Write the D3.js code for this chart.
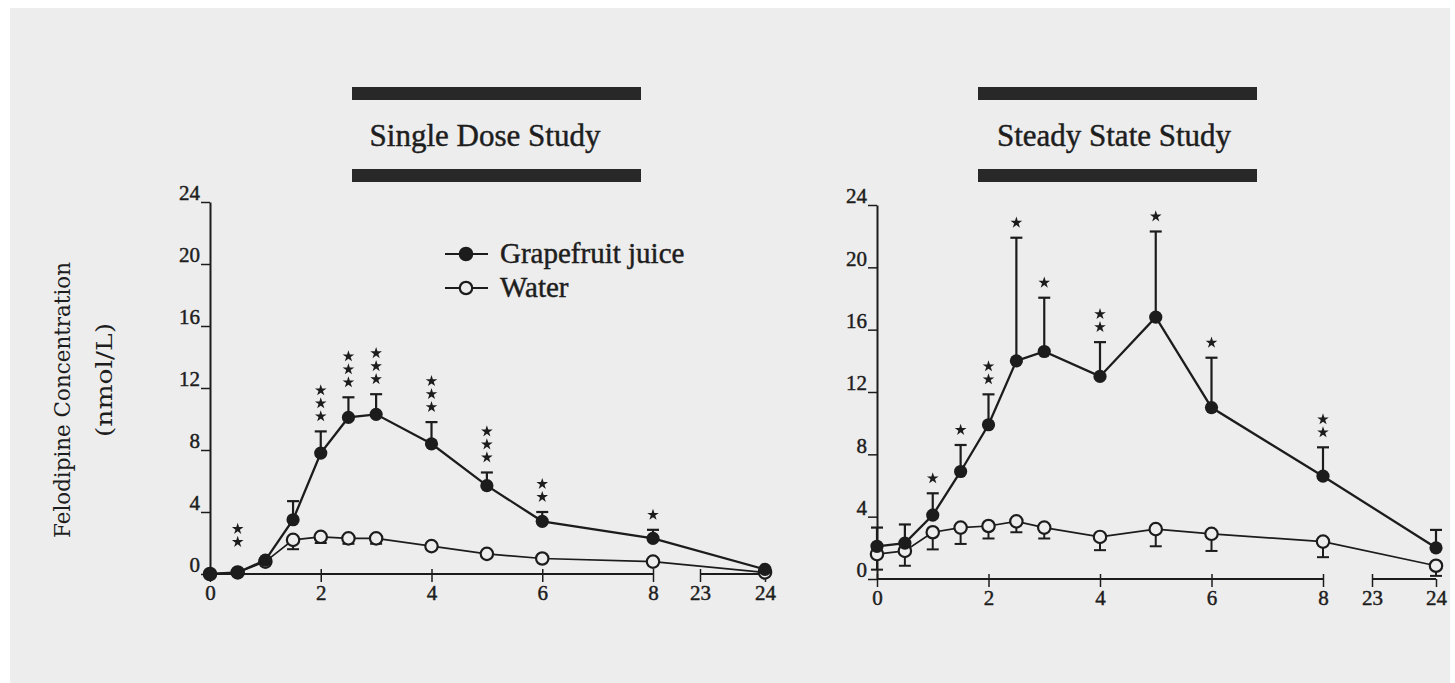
<!DOCTYPE html>
<html>
<head>
<meta charset="utf-8">
<script src="https://cdn.jsdelivr.net/npm/d3@7"></script>
<style>
  body { margin: 0; background: #fff; }
  svg { display: block; }
  text { fill: #1e1e1e; }
</style>
</head>
<body>
<svg id="chart" width="1455" height="683"></svg>
<script>
// Sampling times (h) and axis ticks
const hours = [0, 0.5, 1, 1.5, 2, 2.5, 3, 4, 5, 6, 8, 24];
const xTicks = [0, 2, 4, 6, 8, 23, 24];
const yTicks = [0, 4, 8, 12, 16, 20, 24];
const seriesNames = ["Grapefruit juice", "Water"];
const studyTitles = ["Single Dose Study", "Steady State Study"];
const yLabel = ["Felodipine Concentration", "(nmol/L)"];

// Single dose study: mean and SEM (nmol/L), significance stars per time point
const singleJuice   = [0, 0.1, 0.9, 3.5, 7.8, 10.1, 10.3, 8.4, 5.7, 3.4, 2.3, 0.3];
const singleJuiceSE = [0, 0, 0, 1.2, 1.4, 1.3, 1.3, 1.4, 0.85, 0.6, 0.55, 0];
const singleWater   = [0, 0.1, 0.8, 2.2, 2.4, 2.3, 2.3, 1.8, 1.3, 1.0, 0.8, 0.1];
const singleWaterSE = [0, 0, 0, 0.6, 0.4, 0.35, 0.35, 0.2, 0.1, 0.1, 0.2, 0.1];
const singleStars   = [0, 2, 0, 0, 3, 3, 3, 3, 3, 2, 1, 0];

// Steady state study
const steadyJuice   = [2.1, 2.3, 4.1, 6.9, 9.9, 14.0, 14.6, 13.0, 16.8, 11.0, 6.6, 2.0];
const steadyJuiceSE = [1.2, 1.2, 1.4, 1.7, 1.95, 7.9, 3.45, 2.2, 5.5, 3.2, 1.85, 1.15];
const steadyWater   = [1.6, 1.8, 3.0, 3.3, 3.4, 3.7, 3.3, 2.7, 3.2, 2.9, 2.4, 0.85];
const steadyWaterSE = [1.0, 0.95, 1.1, 1.05, 0.8, 0.7, 0.7, 0.85, 1.1, 1.1, 1.0, 0.65];
const steadyStars   = [0, 0, 1, 1, 2, 1, 1, 2, 1, 1, 2, 0];

const svg = d3.select("#chart");
const ink = "#1c1c1c";
const paper = "#ededed";
const serif = "'Liberation Serif', 'Times New Roman', serif";

svg.append("rect").attr("x", 10).attr("y", 8).attr("width", 1440).attr("height", 675).attr("fill", paper);

const panels = [
  { title: studyTitles[0], juice: singleJuice, juiceSE: singleJuiceSE, water: singleWater, waterSE: singleWaterSE, stars: singleStars,
    xr: [210, 653, 700, 765], yr: [574, 202], bar: [352, 641], titleX: 485, legend: true },
  { title: studyTitles[1], juice: steadyJuice, juiceSE: steadyJuiceSE, water: steadyWater, waterSE: steadyWaterSE, stars: steadyStars,
    xr: [877, 1323, 1372, 1436], yr: [579, 205], bar: [978, 1257], titleX: 1114, legend: false }
];

// Slightly heavier type, like a printed figure
const heavy = sel => sel.attr("stroke", ink).attr("stroke-width", 0.45);

panels.forEach(p => {
  const x = d3.scaleLinear().domain([0, 8, 23, 24]).range(p.xr);
  const y = d3.scaleLinear().domain([0, 24]).range(p.yr);
  const g = svg.append("g");

  // Study heading between two heavy rules
  g.append("rect").attr("x", p.bar[0]).attr("y", 87).attr("width", p.bar[1] - p.bar[0]).attr("height", 13).attr("fill", "#282828");
  g.append("rect").attr("x", p.bar[0]).attr("y", 169).attr("width", p.bar[1] - p.bar[0]).attr("height", 13).attr("fill", "#282828");
  g.append("text").attr("x", p.titleX).attr("y", 146).attr("text-anchor", "middle")
    .style("font-family", serif).style("font-size", "31px").text(p.title).call(heavy);

  // Y axis
  const yAxis = g.append("g").attr("transform", `translate(${x(0)},0)`)
    .call(d3.axisLeft(y).tickValues(yTicks).tickSize(9).tickSizeOuter(0).tickPadding(1));
  yAxis.attr("font-family", null).attr("font-size", null);
  yAxis.select(".domain").attr("stroke", ink).attr("stroke-width", 2);
  yAxis.selectAll(".tick line").attr("stroke", ink).attr("stroke-width", 1.5);
  yAxis.selectAll(".tick text").style("font-family", serif).style("font-size", "21px").attr("fill", ink).attr("dy", "-0.1em").call(heavy);

  // X axis with a break between 8 h and 23 h
  const y0 = y(0);
  const xAxis = g.append("g").attr("transform", `translate(0,${y0})`)
    .call(d3.axisBottom(x).tickValues(xTicks).tickSize(8).tickPadding(3));
  xAxis.attr("font-family", null).attr("font-size", null);
  xAxis.select(".domain").remove();
  xAxis.selectAll(".tick line").attr("y1", d => (d === 24 ? 0 : -5)).attr("stroke", ink).attr("stroke-width", 1.5);
  xAxis.selectAll(".tick text").style("font-family", serif).style("font-size", "21px").attr("fill", ink).call(heavy);
  [[0, 8], [23, 24]].forEach(([a, b]) => {
    g.append("line").attr("x1", x(a)).attr("x2", x(b)).attr("y1", y0).attr("y2", y0)
      .attr("stroke", ink).attr("stroke-width", 2);
  });

  const juicePts = hours.map((t, i) => ({ t, v: p.juice[i], se: p.juiceSE[i], s: p.stars[i] }));
  const waterPts = hours.map((t, i) => ({ t, v: p.water[i], se: p.waterSE[i] }));
  const line = d3.line().x(d => x(d.t)).y(d => y(d.v));

  g.append("path").datum(waterPts).attr("d", line).attr("fill", "none").attr("stroke", ink).attr("stroke-width", 1.7);
  g.append("path").datum(juicePts).attr("d", line).attr("fill", "none").attr("stroke", ink).attr("stroke-width", 2.3);

  // Error bars: juice upward, water downward
  const cap = 6;
  juicePts.filter(d => d.se > 0).forEach(d => {
    const cx = x(d.t), top = y(d.v + d.se);
    g.append("line").attr("x1", cx).attr("x2", cx).attr("y1", y(d.v)).attr("y2", top).attr("stroke", ink).attr("stroke-width", 2.2);
    g.append("line").attr("x1", cx - cap).attr("x2", cx + cap).attr("y1", top).attr("y2", top).attr("stroke", ink).attr("stroke-width", 2.2);
  });
  waterPts.filter(d => d.se > 0).forEach(d => {
    const cx = x(d.t), bot = y(d.v - d.se);
    g.append("line").attr("x1", cx).attr("x2", cx).attr("y1", y(d.v)).attr("y2", bot).attr("stroke", ink).attr("stroke-width", 2);
    g.append("line").attr("x1", cx - cap).attr("x2", cx + cap).attr("y1", bot).attr("y2", bot).attr("stroke", ink).attr("stroke-width", 2);
  });

  // Markers
  g.selectAll(".wm").data(waterPts).join("circle").attr("class", "wm")
    .attr("cx", d => x(d.t)).attr("cy", d => y(d.v)).attr("r", 6.2)
    .attr("fill", paper).attr("stroke", ink).attr("stroke-width", 2.2);
  g.selectAll(".jm").data(juicePts).join("circle").attr("class", "jm")
    .attr("cx", d => x(d.t)).attr("cy", d => y(d.v)).attr("r", 6.6).attr("fill", ink);

  // Significance stars stacked above each juice point
  const star = d3.symbol().type(d3.symbolStar).size(42);
  juicePts.filter(d => d.s > 0).forEach(d => {
    const base = y(Math.max(d.v + d.se, 1.1)) - 15;
    d3.range(d.s).forEach(k => {
      g.append("path").attr("d", star).attr("fill", ink)
        .attr("transform", `translate(${x(d.t)},${base - k * 13})`);
    });
  });

  if (p.legend) {
    const lg = g.append("g").attr("transform", "translate(445,0)");
    const rows = [{ name: seriesNames[0], yy: 254, filled: true }, { name: seriesNames[1], yy: 288, filled: false }];
    rows.forEach(r => {
      lg.append("line").attr("x1", 0).attr("x2", 43).attr("y1", r.yy).attr("y2", r.yy)
        .attr("stroke", ink).attr("stroke-width", 1.8);
      lg.append("circle").attr("cx", 21).attr("cy", r.yy).attr("r", 6.2)
        .attr("fill", r.filled ? ink : paper).attr("stroke", ink).attr("stroke-width", 2.2);
      lg.append("text").attr("x", 55).attr("y", r.yy + 9)
        .style("font-family", serif).style("font-size", "29px").text(r.name).call(heavy);
    });
  }
});

// Shared y-axis title
svg.append("text").attr("transform", "translate(70,400) rotate(-90)").attr("text-anchor", "middle")
  .attr("textLength", 276).attr("lengthAdjust", "spacingAndGlyphs")
  .style("font-family", "'DejaVu Serif', serif").style("font-size", "22px").text(yLabel[0]);
svg.append("text").attr("transform", "translate(112,380) rotate(-90)").attr("text-anchor", "middle")
  .attr("textLength", 114).attr("lengthAdjust", "spacingAndGlyphs")
  .style("font-family", "'DejaVu Serif', serif").style("font-size", "23px").text(yLabel[1]);
</script>
</body>
</html>
